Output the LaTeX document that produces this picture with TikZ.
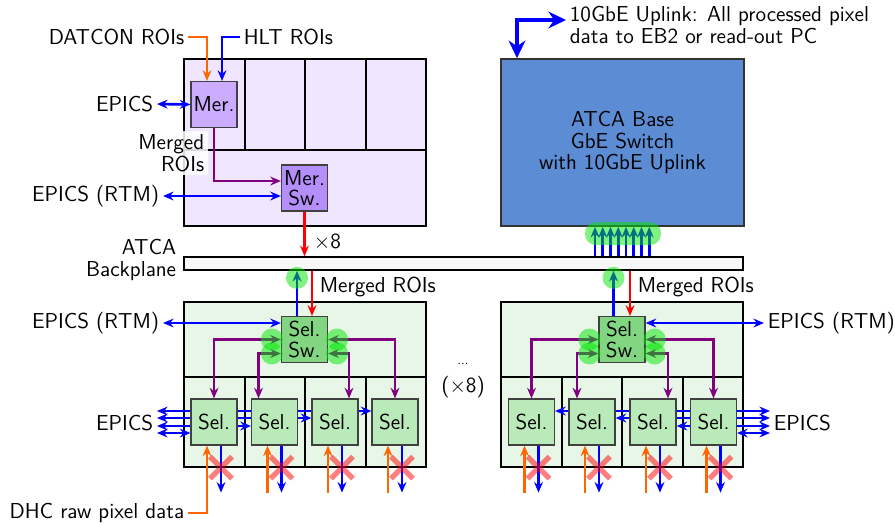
\documentclass[tikz,border=0pt]{standalone}
\usepackage{tikz}
\usepackage{xcolor}
\usetikzlibrary{calc,arrows.meta}
\definecolor{boardLila}{RGB}{240,230,255}
\definecolor{merLila}{RGB}{204,172,255}
\definecolor{merSwLila}{RGB}{180,142,250}
\definecolor{boardMint}{RGB}{232,246,232}
\definecolor{selMint}{RGB}{186,234,186}
\definecolor{selSwMint}{RGB}{130,214,130}
\definecolor{switchBlue}{RGB}{92,140,212}
\definecolor{roiOrange}{RGB}{255,102,0}
\definecolor{roiPurple}{RGB}{128,0,128}
\definecolor{glowGreen}{RGB}{0,230,0}
\pgfdeclarelayer{back}
\pgfdeclarelayer{lines}
\pgfdeclarelayer{front}
\pgfsetlayers{back,lines,main,front}
\tikzset{
  fpga/.style={draw=black!75,line width=0.7pt,inner sep=0pt,minimum width=0.92cm,minimum height=0.92cm,align=center,font=\sffamily\fontsize{12.3}{11.5}\selectfont},
  lbl/.style={font=\sffamily\fontsize{12.3}{12.5}\selectfont,inner sep=2pt},
  board/.style={draw=black,line width=0.95pt},
  bl/.style={draw=blue,line width=1.5pt},
  oa/.style={draw=roiOrange,line width=1.5pt},
  pp/.style={draw=roiPurple,line width=1.5pt},
  rd/.style={draw=red,line width=1.5pt},
  glow/.style={fill=glowGreen,fill opacity=0.5},
  cross/.style={draw=red,draw opacity=0.5,line width=3pt},
  uplink/.style={draw=blue,line width=2.6pt,{Stealth[length=10pt,width=9.5pt]}-{Stealth[length=10pt,width=9.5pt]}}
}

\begin{document}
\begin{tikzpicture}[x=0.02cm,y=-0.02cm,>={Stealth[length=6pt,width=5pt]}]
\path[use as bounding box] (0,0) rectangle (895,522);

% merger board
\node[fpga,fill=merLila] (mer) at (214,104.5) {Mer.};
\node[fpga,fill=merSwLila] (mersw) at (304.5,188) {Mer.\\Sw.};
\node[lbl,anchor=east] (datcon) at (188,37) {DATCON ROIs};
\node[lbl,anchor=west] (hlt) at (240,37) {HLT ROIs};
\node[lbl,anchor=east] (epicsA) at (157,104) {EPICS};
\node[lbl,anchor=east,align=right,fill=white,fill opacity=0.85,text opacity=1] (mrg) at (208,153) {Merged\\ROIs};
\node[lbl,anchor=east] (epicsB) at (163,196) {EPICS (RTM)};
\node[lbl,anchor=west] (times) at (310,242) {$\times$8};

% switch and backplane
\node[draw=black!80,line width=0.95pt,fill=switchBlue,minimum width=4.86cm,minimum height=3.34cm,align=center,lbl] (sw) at (622.5,142.5) {ATCA Base\\GbE Switch\\with 10GbE Uplink};
\node[lbl,anchor=north west,align=left] (upl) at (566,2) {10GbE Uplink: All processed pixel\\data to EB2 or read-out PC};
\node[draw=black,line width=0.95pt,fill=black!3,minimum width=11.18cm,minimum height=0.26cm,inner sep=0pt] (bp) at (463.5,263.5) {};
\node[lbl,anchor=east,align=right] (atca) at (180,260) {ATCA\\Backplane};

% selector boards
\node[fpga,fill=selSwMint] (selswL) at (304.5,339.5) {Sel.\\Sw.};
\node[fpga,fill=selSwMint] (selswR) at (622,339.5) {Sel.\\Sw.};
\foreach \n/\x in {1/214,2/274.5,3/335,4/395}
  \node[fpga,fill=selMint] (selL\n) at (\x,422) {Sel.};
\foreach \n/\x in {1/531.5,2/592,3/653,4/713.5}
  \node[fpga,fill=selMint] (selR\n) at (\x,422) {Sel.};
\node[lbl,anchor=west] (mroiL) at (316,287) {Merged ROIs};
\node[lbl,anchor=west] (mroiR) at (634,287) {Merged ROIs};
\node[lbl,anchor=east] (epicsC) at (163,323) {EPICS (RTM)};
\node[lbl,anchor=west] (epicsD) at (764,323) {EPICS (RTM)};
\node[lbl,anchor=east] (epicsE) at (157,423) {EPICS};
\node[lbl,anchor=west] (epicsF) at (770,423) {EPICS};
\node[lbl] (dots) at (463,364) {\scriptsize ...};
\node[lbl] (mult) at (463,387) {($\times$8)};
\node[lbl,anchor=east] (dhc) at (188,513) {DHC raw pixel data};

\begin{pgfonlayer}{back}
% merger board: four cells on top, one below
\fill[boardLila] (184,59) rectangle (426,226);
\draw[board] (184,59) rectangle (426,226) (184,150) -- (426,150);
\foreach \x in {245,305,366}
  \draw[board] (\x,59) -- (\x,150);
% selector boards
\foreach \bx in {184,501}{
  \fill[boardMint] (\bx,302) rectangle ++(242,165);
  \draw[board] (\bx,302) rectangle ++(242,165) (\bx,377) -- ++(242,0);
}
\foreach \x in {245,305,366,562,622,683}
  \draw[board] (\x,377) -- (\x,467);
\end{pgfonlayer}

\begin{pgfonlayer}{lines}
\draw[oa,->] (datcon.east) -| ($(mer.north)+(-7,0)$);
\draw[bl,->] (hlt.west) -| ($(mer.north)+(8,0)$);
\draw[bl,<->] (epicsA.east) -- (mer.west);
\draw[pp,->] (mer.south) |- ($(mersw.west)+(0,-7)$);
\draw[bl,<->] (epicsB.east) -- (epicsB -| mersw.west);
\draw[rd,->] (mersw.south) -- (mersw.south |- bp.north);

\coordinate (ulbend) at (517,20);
\draw[uplink] (ulbend -| upl.west) -- (ulbend) -- (ulbend |- sw.north);
\foreach \i in {0,...,7}{
  \pgfmathsetmacro\xx{595+7.75*\i}
  \draw[bl,->] (\xx,0 |- bp.north) -- (\xx,0 |- sw.south);
}

\coordinate (upL) at ($(selswL.north)+(-7.5,0)$);
\coordinate (dnL) at ($(selswL.north)+(7.5,0)$);
\coordinate (upR) at ($(selswR.north)+(-8.5,0)$);
\coordinate (dnR) at ($(selswR.north)+(8,0)$);
\draw[bl,->] (upL) -- (upL |- bp.south);
\draw[rd,<-] (dnL) -- (dnL |- bp.south);
\draw[bl,->] (upR) -- (upR |- bp.south);
\draw[rd,<-] (dnR) -- (dnR |- bp.south);

\draw[pp,<->] (selswL.west) -| (selL1.north);
\draw[pp,<->] ($(selswL.west)+(0,14)$) -| ($(selL2.north)+(-16,0)$);
\draw[pp,<->] (selswL.east) -| (selL4.north);
\draw[pp,<->] ($(selswL.east)+(0,14)$) -| ($(selL3.north)+(14,0)$);
\draw[pp,<->] (selswR.west) -| (selR1.north);
\draw[pp,<->] ($(selswR.west)+(0,14)$) -| ($(selR2.north)+(-15,0)$);
\draw[pp,<->] (selswR.east) -| (selR4.north);
\draw[pp,<->] ($(selswR.east)+(0,14)$) -| ($(selR3.north)+(15,0)$);

\draw[bl,<->] (epicsC.east) -- (epicsC -| selswL.west);
\draw[bl,<->] (selswR.east |- epicsD) -- (epicsD.west);
\foreach \n/\yy in {1/433,2/426,3/418,4/411}
  \draw[bl,<->] (epicsE.east |- 0,\yy) -- (selL\n.west |- 0,\yy);
\foreach \n/\yy in {1/411,2/418,3/426,4/433}
  \draw[bl,<->] (selR\n.east |- 0,\yy) -- (epicsF.west |- 0,\yy);

\draw[oa,->] (dhc.east) -| ($(selL1.south)+(-7,0)$);
\foreach \s in {selL2,selL3,selL4,selR1,selR2,selR3,selR4}
  \draw[oa,->] ($(\s.south)+(-7,47)$) -- ++(0,-47);
\foreach \s in {selL1,selL2,selL3,selL4,selR1,selR2,selR3,selR4}
  \draw[bl,->] ($(\s.south)+(7,0)$) -- ++(0,47);
\end{pgfonlayer}

\begin{pgfonlayer}{front}
\fill[glow,rounded corners=0.22cm] (585,222) rectangle (661,245);
\fill[glow] ($(upL |- bp.south)+(0,7)$) circle[radius=0.22cm];
\fill[glow] ($(upR |- bp.south)+(0,7)$) circle[radius=0.22cm];
\foreach \s in {selswL,selswR}{
  \fill[glow] ($(\s.west)+(-9,0)$) circle[radius=0.22cm];
  \fill[glow] ($(\s.west)+(-9,14)$) circle[radius=0.22cm];
  \fill[glow] ($(\s.east)+(9,0)$) circle[radius=0.22cm];
  \fill[glow] ($(\s.east)+(9,14)$) circle[radius=0.22cm];
}
\foreach \s in {selL1,selL2,selL3,selL4,selR1,selR2,selR3,selR4}
  \draw[cross] ($(\s.south)+(7,22)$) +(-11,-11) -- +(11,11) +(-11,11) -- +(11,-11);
\end{pgfonlayer}
\end{tikzpicture}
\end{document}
